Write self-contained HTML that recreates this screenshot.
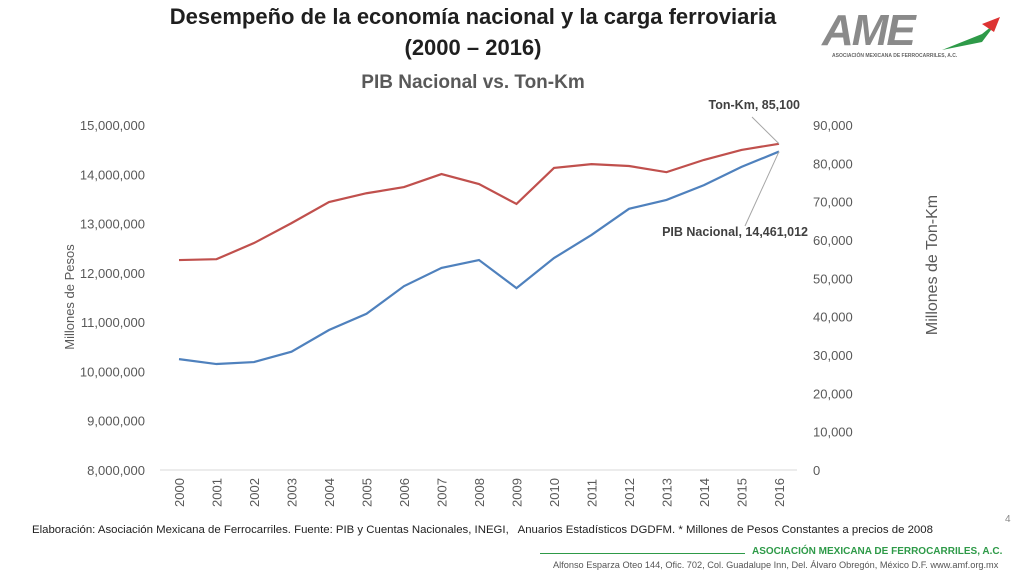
<!DOCTYPE html>
<html><head><meta charset="utf-8"><style>
body{margin:0;width:1024px;height:576px;background:#fff;font-family:"Liberation Sans",sans-serif;overflow:hidden;position:relative}
.t{position:absolute;white-space:nowrap}
</style></head><body>
<div class="t" style="left:0;width:946px;text-align:center;top:4px;font-size:22px;font-weight:bold;color:#1f1f1f">Desempeño de la economía nacional y la carga ferroviaria</div>
<div class="t" style="left:0;width:946px;text-align:center;top:35px;font-size:22px;font-weight:bold;color:#1f1f1f">(2000 – 2016)</div>
<div class="t" style="left:0;width:946px;text-align:center;top:72px;font-size:19px;font-weight:bold;color:#595959">PIB Nacional vs. Ton-Km</div>
<div style="position:absolute;left:822px;top:12px;width:185px;height:50px">
<div class="t" style="left:0;top:-6px;font-size:44px;font-weight:bold;font-style:italic;color:#8a8a8a;letter-spacing:-2px">AME</div>
<svg width="185" height="50" style="position:absolute;left:0;top:0"><path d="M120 38 L160 22 L175 10 L160 30 Z" fill="#2e9a48"/><path d="M160 12 L178 5 L172 20 Z" fill="#d33"/></svg>
<div class="t" style="left:10px;top:41px;font-size:5px;font-weight:bold;color:#666">ASOCIACIÓN MEXICANA DE FERROCARRILES, A.C.</div>
</div>
<svg id="c" width="1024" height="576" style="position:absolute;left:0;top:0"></svg>
<div class="t" style="left:32px;top:524px;font-size:11.4px;color:#222">Elaboración: Asociación Mexicana de Ferrocarriles. Fuente: PIB y Cuentas Nacionales, INEGI, &nbsp; Anuarios Estadísticos DGDFM. * Millones de Pesos Constantes a precios de 2008</div>
<div class="t" style="left:1005px;top:514px;font-size:10px;color:#888">4</div>
<div style="position:absolute;left:540px;top:553px;width:205px;height:1px;background:#2e9a48"></div>
<div class="t" style="left:752px;top:546px;font-size:10px;font-weight:bold;color:#2e9a48">ASOCIACIÓN MEXICANA DE FERROCARRILES, A.C.</div>
<div class="t" style="left:553px;top:560px;font-size:9.2px;color:#555">Alfonso Esparza Oteo 144, Ofic. 702, Col. Guadalupe Inn, Del. Álvaro Obregón, México D.F. www.amf.org.mx</div>
<script>
const years=[2000,2001,2002,2003,2004,2005,2006,2007,2008,2009,2010,2011,2012,2013,2014,2015,2016];
const pib=[10250000,10150000,10190000,10400000,10840000,11170000,11730000,12100000,12260000,11690000,12300000,12770000,13300000,13480000,13780000,14150000,14461012];
const tonkm=[54760,55000,59200,64400,69900,72200,73800,77200,74600,69400,78800,79800,79300,77700,80900,83500,85100];
const leftTicks=[8000000,9000000,10000000,11000000,12000000,13000000,14000000,15000000];
const rightTicks=[0,10000,20000,30000,40000,50000,60000,70000,80000,90000];
const NS="http://www.w3.org/2000/svg",svg=document.getElementById('c');
const x0=179,dx=37.5,yT=125,yB=470;
const X=i=>x0+i*dx;
const YL=v=>yB-(v-8000000)/7000000*(yB-yT);
const YR=v=>yB-v/90000*(yB-yT);
function el(t,a,txt){const e=document.createElementNS(NS,t);for(const k in a)e.setAttribute(k,a[k]);if(txt!==undefined)e.textContent=txt;svg.appendChild(e);return e;}
const fmt=v=>v.toLocaleString('en-US');
let ax=el('line',{x1:160,x2:797,y1:yB,y2:yB,stroke:'#d9d9d9'});

leftTicks.forEach(v=>{const t=el('text',{x:145,y:YL(v)+5,'text-anchor':'end','font-size':13,fill:'#595959','font-family':'Liberation Sans'},fmt(v));
});
rightTicks.forEach(v=>{const t=el('text',{x:813,y:YR(v)+5,'font-size':13,fill:'#595959','font-family':'Liberation Sans'},fmt(v));
});
years.forEach((y,i)=>{const t=el('text',{x:X(i)+5,y:507,transform:`rotate(-90 ${X(i)+5} 507)`,'font-size':13,fill:'#595959','font-family':'Liberation Sans'},y);
});
let yl=el('text',{x:74,y:297,transform:'rotate(-90 74 297)','text-anchor':'middle','font-size':13,fill:'#595959','font-family':'Liberation Sans'},'Millones de Pesos');

let yr=el('text',{x:937,y:265,transform:'rotate(-90 937 265)','text-anchor':'middle','font-size':16,fill:'#595959','font-family':'Liberation Sans'},'Millones de Ton-Km');

let p1=el('polyline',{points:pib.map((v,i)=>X(i)+','+YL(v)).join(' '),fill:'none',stroke:'#4f81bd','stroke-width':2.2});

let p2=el('polyline',{points:tonkm.map((v,i)=>X(i)+','+YR(v)).join(' '),fill:'none',stroke:'#c0504d','stroke-width':2.2});

const n=years.length-1;
el('line',{x1:X(n),y1:YR(tonkm[n]),x2:752,y2:117,stroke:'#a6a6a6'});
el('line',{x1:X(n),y1:YL(pib[n]),x2:745,y2:226,stroke:'#a6a6a6'});
let l1=el('text',{x:800,y:109,'text-anchor':'end','font-size':12.5,'font-weight':'bold',fill:'#404040','font-family':'Liberation Sans'},'Ton-Km, '+fmt(tonkm[n]));

let l2=el('text',{x:808,y:236,'text-anchor':'end','font-size':12.5,'font-weight':'bold',fill:'#404040','font-family':'Liberation Sans'},'PIB Nacional, '+fmt(pib[n]));

</script>
</body></html>
